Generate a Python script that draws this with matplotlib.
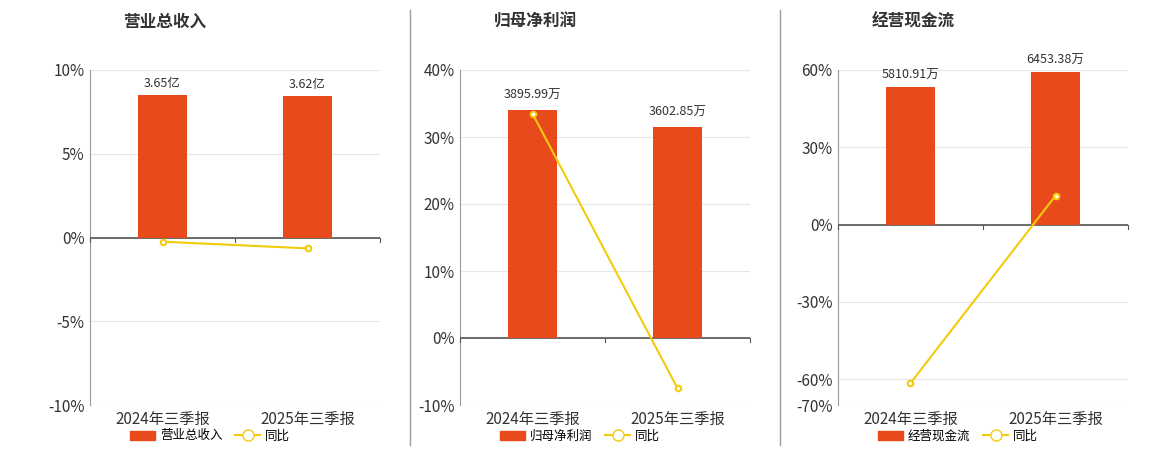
import numpy as np
import matplotlib
matplotlib.use("Agg")
import matplotlib.pyplot as plt
from matplotlib.lines import Line2D
from matplotlib.patches import Patch

plt.rcParams['font.family'] = ['Noto Sans CJK SC', 'DejaVu Sans']

periods = ["2024年三季报", "2025年三季报"]
titles = ["营业总收入", "归母净利润", "经营现金流"]
bar_values = [[3.65, 3.62], [3895.99, 3602.85], [5810.91, 6453.38]]
bar_labels = [["3.65亿", "3.62亿"], ["3895.99万", "3602.85万"], ["5810.91万", "6453.38万"]]
yoy = [[-0.25, -0.65], [33.5, -7.5], [-61.5, 11.2]]
yticks = [[-10, -5, 0, 5, 10], [-10, 0, 10, 20, 30, 40], [-70, -60, -30, 0, 30, 60]]
ylims = [(-10, 10), (-10, 40), (-70, 60)]
bar_tops = [4.29, 4580, 6527]

BAR = "#e84a1c"
LINE = "#f2cc0c"

fig = plt.figure(figsize=(11.6, 4.5), dpi=100)
lefts = [90, 460, 838]
W, H = 1160, 450
for i in range(3):
    ax = fig.add_axes([lefts[i] / W, (H - 405) / H, 290 / W, 335 / H])
    lo, hi = ylims[i]
    ax.set_ylim(lo, hi)
    ax.set_xlim(-0.5, 1.5)
    ax.set_yticks(yticks[i])
    ax.set_yticklabels([f"{t}%" for t in yticks[i]], fontsize=11, color="#333333")
    ax.grid(axis="y", color="#e6e6e6", lw=0.8)
    ax.set_axisbelow(True)
    for s in ["top", "right", "bottom"]:
        ax.spines[s].set_visible(False)
    ax.spines["left"].set_color("#999999")
    ax.tick_params(axis="y", length=0, pad=4)
    ax.set_xticks([0, 1])
    ax.set_xticklabels(periods, fontsize=11, color="#333333")
    ax.tick_params(axis="x", length=0, pad=4)
    ax.axhline(0, color="#555555", lw=1.2, zorder=3)
    for xb in [-0.5, 0.5, 1.5]:
        ax.plot([xb, xb], [0, -(hi - lo) * 0.012], color="#555555", lw=0.8, clip_on=False, zorder=3)

    ax2 = ax.twinx()
    top = bar_tops[i]
    ax2.set_ylim(top * lo / hi, top)
    ax2.axis("off")
    ax2.bar([0, 1], bar_values[i], width=0.34, color=BAR, zorder=2)
    for x, v, lab in zip([0, 1], bar_values[i], bar_labels[i]):
        ax2.text(x, v + top * 0.03, lab, ha="center", va="bottom", fontsize=9, color="#333333")

    ax3 = ax.twinx()
    ax3.set_ylim(lo, hi)
    ax3.axis("off")
    ax3.plot([0, 1], yoy[i], color=LINE, lw=1.5, marker="o", ms=4,
             mfc="white", mec=LINE, mew=1.5, zorder=4)

    fig.text((lefts[i] + 145 - 70) / W, 1 - 22 / H, titles[i], ha="center", va="center",
             fontsize=12, fontweight="bold", color="#333333")
    handles = [Patch(color=BAR), Line2D([0], [0], color=LINE, marker="o", mfc="white", ms=8, lw=1.5)]
    fig.legend(handles, [titles[i], "同比"], loc="center", ncol=2, frameon=False,
               bbox_to_anchor=((lefts[i] + 120) / W, 1 - 436 / H), fontsize=9,
               handlelength=2, columnspacing=1, handletextpad=0.4)

for xs in [410, 780]:
    fig.add_artist(Line2D([xs / W, xs / W], [1 - 445 / H, 1 - 10 / H], color="#999999", lw=1))

fig.savefig("out.png", dpi=100)
